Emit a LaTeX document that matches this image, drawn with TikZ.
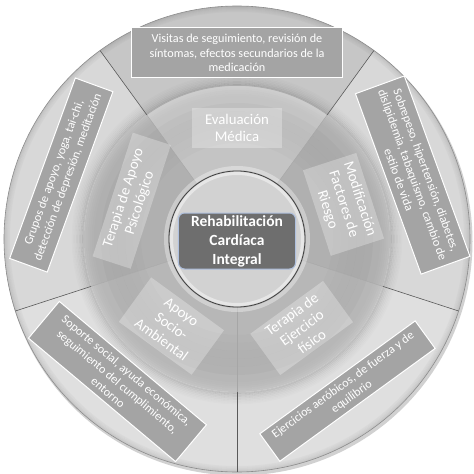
\documentclass[tikz,border=0pt]{standalone}
\usepackage{fontspec}
\setmainfont{Carlito}
\usetikzlibrary{calc}
\definecolor{otop}{HTML}{C6C6C6}
\definecolor{oside}{HTML}{D8D8D8}
\definecolor{olow}{HTML}{DFDFDF}
\definecolor{mtop}{HTML}{C4C4C4}
\definecolor{mside}{HTML}{B0B0B0}
\definecolor{mlow}{HTML}{B7B7B7}
\definecolor{obox}{HTML}{A4A4A4}
\definecolor{cbox}{HTML}{6E6E6E}
\definecolor{cline}{HTML}{AFC0DE}
\definecolor{disc}{HTML}{D2D2D2}
\begin{document}
\begin{tikzpicture}[x=1pt,y=1pt,
  outbox/.style={draw=white, line width=1pt, fill=obox, text=white, align=center,
    inner sep=0pt, font=\fontsize{12.2}{14.5}\selectfont},
  midbox/.style={fill=white, fill opacity=0.28, text opacity=1, text=white, align=center,
    inner sep=0pt, font=\fontsize{14.8}{17}\selectfont},
  centerbox/.style={fill=cbox, draw=cline, line width=1pt, rounded corners=6pt, text=white,
    align=center, inner sep=0pt, font=\fontsize{15.5}{19}\selectfont\bfseries},
  outline/.style={draw=black!65, line width=0.6pt},
  midline/.style={draw=black!35, line width=0.4pt}]
\useasboundingbox (-237,-237) rectangle (237,237);
\fill[white] (-237,-237) rectangle (237,237);
\coordinate (C) at (0,-2);
% drop shadow of whole disc
\fill[black, opacity=0.18] (1.5,-4.5) circle (234);
% outer ring sectors
\fill[otop]  (C) -- +(54:233)  arc[start angle=54,  end angle=126, radius=233] -- cycle;
\fill[oside] (C) -- +(126:233) arc[start angle=126, end angle=198, radius=233] -- cycle;
\fill[olow]  (C) -- +(198:233) arc[start angle=198, end angle=270, radius=233] -- cycle;
\fill[olow]  (C) -- +(270:233) arc[start angle=270, end angle=342, radius=233] -- cycle;
\fill[oside] (C) -- +(342:233) arc[start angle=342, end angle=414, radius=233] -- cycle;
% outer bevel
\foreach \i/\o in {0.5/0.10,1.5/0.08,2.5/0.06,3.5/0.045,4.5/0.03,5.5/0.02}
  \draw[black, opacity=\o, line width=1pt] (C) circle (233-\i);
\draw[black!45, line width=0.6pt] (C) circle (233);
% shadow of middle ring on outer ring
\foreach \i/\o in {1/0.13,2.5/0.10,4/0.08,5.5/0.06,7/0.045,8.5/0.03,10/0.02,11.5/0.01}
  \draw[black, opacity=\o, line width=1.6pt] (C) circle (153+\i);
% outer ring separators
\foreach \a in {54,126,198,270,342}
  \draw[outline] (C) ++(\a:153) coordinate (s\a) -- ++(\a:80) coordinate (e\a);
% middle ring sectors
\fill[mtop]  (C) -- +(54:153)  arc[start angle=54,  end angle=126, radius=153] -- cycle;
\fill[mside] (C) -- +(126:153) arc[start angle=126, end angle=198, radius=153] -- cycle;
\fill[mlow]  (C) -- +(198:153) arc[start angle=198, end angle=270, radius=153] -- cycle;
\fill[mlow]  (C) -- +(270:153) arc[start angle=270, end angle=342, radius=153] -- cycle;
\fill[mside] (C) -- +(342:153) arc[start angle=342, end angle=414, radius=153] -- cycle;
% middle ring light rim and inner shade
\foreach \i/\o in {1/0.16,3/0.12,5/0.08,7/0.05,9/0.03}
  \draw[white, opacity=\o, line width=2pt] (C) circle (153-\i);
\foreach \r/\o in {100/0.015,108/0.025,116/0.03,124/0.03,132/0.025}
  \draw[black, opacity=\o, line width=8pt] (C) circle (\r);
\foreach \a in {54,126,198,270,342}
  \draw[midline] (C) ++(\a:68) -- ++(\a:85);
% inner disc
\draw[white, opacity=0.35, line width=4pt] (C) circle (71);
\fill[disc] (C) circle (68);
\draw[white, opacity=0.45, line width=3pt] (C) circle (65.5);
\draw[black!75, line width=0.8pt] (C) circle (68);
% center node
\node[centerbox, minimum width=117pt, minimum height=56pt] (center) at (0,-4)
  {Rehabilitación\\Cardíaca\\Integral};
% middle boxes
\node[midbox, minimum width=90pt, minimum height=40pt] (eval) at ($(C)+(90:111)$)
  {Evaluación\\Médica};
\node[midbox, minimum width=90pt, minimum height=56pt, rotate=-72] (riesgo) at ($(C)+(18:112)$)
  {Modificación\\Factores de\\Riesgo};
\node[midbox, minimum width=130pt, minimum height=40pt, rotate=72] (psico) at ($(C)+(160:112)$)
  {Terapia de Apoyo\\Psicológico};
\node[midbox, minimum width=90pt, minimum height=55pt, rotate=-36] (socio) at ($(C)+(233:109)$)
  {Apoyo\\Socio-\\Ambiental};
\node[midbox, minimum width=90pt, minimum height=51pt, rotate=36] (ejer) at ($(C)+(306:110)$)
  {Terapia de\\Ejercicio\\físico};
% outer boxes
\node[outbox, minimum width=210pt, minimum height=50pt] (visitas) at ($(C)+(90:186)$)
  {Visitas de seguimiento, revisión de\\síntomas, efectos secundarios de la\\medicación};
\node[outbox, minimum width=192pt, minimum height=52pt, rotate=-70] (sobre) at ($(C)+(20:187)$)
  {Sobrepeso, hipertensión, diabetes,\\dislipidemia, tabaquismo, cambio de\\estilo de vida};
\node[outbox, minimum width=192pt, minimum height=40pt, rotate=70] (grupos) at ($(C)+(160:187)$)
  {Grupos de apoyo, yoga, tai-chi,\\detección de depresión, meditación};
\node[outbox, minimum width=192pt, minimum height=48pt, rotate=-40] (soporte) at ($(C)+(230:186)$)
  {Soporte social, ayuda económica,\\seguimiento del cumplimiento,\\entorno};
\node[outbox, minimum width=192pt, minimum height=34pt, rotate=36] (ejerc) at ($(C)+(306:188)$)
  {Ejercicios aeróbicos, de fuerza y de\\equilibrio};
\end{tikzpicture}
\end{document}
